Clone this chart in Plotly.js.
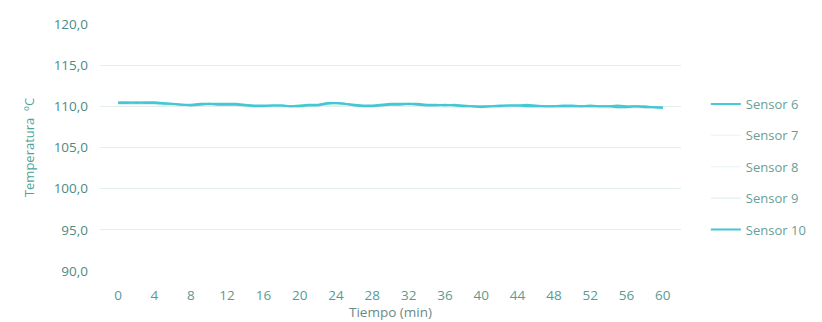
<!DOCTYPE html>
<html>
<head>
<meta charset="utf-8">
<script src="https://cdn.plot.ly/plotly-3.0.1.min.js"></script>
<style>html,body{margin:0;padding:0;background:#fff;}#chart{width:822px;height:322px;}</style>
</head>
<body>
<div id="chart"></div>
<script>
// Time in minutes
const tiempo = [0,1,2,3,4,5,6,7,8,9,10,11,12,13,14,15,16,17,18,19,20,21,22,23,24,25,26,27,28,29,30,31,32,33,34,35,36,37,38,39,40,41,42,43,44,45,46,47,48,49,50,51,52,53,54,55,56,57,58,59,60];
const sensor6 = [110.5,110.5,110.4,110.5,110.5,110.4,110.3,110.2,110.2,110.3,110.3,110.3,110.3,110.3,110.2,110.1,110.1,110.1,110.1,110.0,110.1,110.2,110.2,110.4,110.4,110.3,110.2,110.1,110.1,110.2,110.3,110.3,110.3,110.3,110.2,110.2,110.1,110.2,110.1,110.0,110.0,110.0,110.1,110.1,110.1,110.2,110.1,110.0,110.0,110.1,110.1,110.0,110.1,110.0,110.0,110.1,110.0,110.0,110.0,109.9,109.9];
const sensor7 = [110.3,110.3,110.3,110.3,110.2,110.2,110.2,110.2,110.1,110.1,110.2,110.2,110.2,110.1,110.1,110.1,110.0,110.0,110.0,110.0,110.0,110.1,110.1,110.2,110.2,110.2,110.1,110.1,110.0,110.0,110.1,110.1,110.1,110.1,110.1,110.0,110.0,110.0,110.0,110.0,109.9,109.9,110.0,110.0,110.0,110.0,110.0,110.0,109.9,109.9,110.0,110.0,110.0,109.9,109.9,109.9,109.9,109.9,109.9,109.8,109.8];
const sensor8 = [110.4,110.4,110.4,110.4,110.3,110.3,110.3,110.2,110.2,110.2,110.2,110.2,110.3,110.2,110.2,110.1,110.1,110.1,110.0,110.0,110.0,110.1,110.1,110.2,110.3,110.2,110.2,110.1,110.1,110.1,110.2,110.2,110.2,110.2,110.1,110.1,110.1,110.1,110.0,110.0,110.0,110.0,110.0,110.1,110.1,110.0,110.0,110.0,110.0,110.0,110.0,110.0,110.0,110.0,110.0,110.0,109.9,109.9,109.9,109.9,109.9];
const sensor9 = [110.2,110.2,110.2,110.2,110.2,110.1,110.1,110.1,110.1,110.1,110.1,110.1,110.1,110.1,110.0,110.0,110.0,110.0,109.9,109.9,109.9,110.0,110.0,110.1,110.1,110.1,110.0,110.0,110.0,110.0,110.0,110.0,110.1,110.0,110.0,110.0,109.9,109.9,109.9,109.9,109.9,109.9,109.9,109.9,110.0,109.9,109.9,109.9,109.9,109.9,109.9,109.9,109.9,109.8,109.8,109.8,109.8,109.8,109.8,109.8,109.8];
const sensor10 = [110.4,110.4,110.5,110.4,110.4,110.3,110.3,110.2,110.1,110.2,110.3,110.2,110.2,110.2,110.1,110.0,110.0,110.1,110.1,110.0,110.0,110.1,110.1,110.3,110.4,110.3,110.1,110.0,110.0,110.1,110.2,110.2,110.3,110.2,110.1,110.1,110.2,110.1,110.0,110.0,109.9,110.0,110.0,110.1,110.1,110.0,110.0,110.0,110.0,110.0,110.0,110.0,110.0,110.0,110.0,109.9,109.9,110.0,109.9,109.9,109.8];
const nombres = ["Sensor 6","Sensor 7","Sensor 8","Sensor 9","Sensor 10"];
const xTicks = [0,4,8,12,16,20,24,28,32,36,40,44,48,52,56,60];
const yTicks = [90,95,100,105,110,115,120];
const yTickText = ["90,0","95,0","100,0","105,0","110,0","115,0","120,0"];

const series = [sensor6, sensor7, sensor8, sensor9, sensor10];
const colores = ["#45cbd6","#eef6f6","#edf5f5","#e4f0f0","#45c6d3"];
const anchos = [2,1.2,1.2,1.2,2];

const traces = series.map((s,i)=>({
  x: tiempo, y: s, type:'scatter', mode:'lines', name: nombres[i],
  line:{color:colores[i], width:anchos[i]},
  legendgroup:'g'+i, legendrank:i+1
}));
const ordered = [traces[1],traces[2],traces[3],traces[0],traces[4]];

const tickColor = "#5a9a92";
const layout = {
  width:822, height:322,
  margin:{l:100, r:140, t:24, b:51},
  paper_bgcolor:'#ffffff', plot_bgcolor:'#ffffff',
  font:{family:"Open Sans, sans-serif", color:tickColor, size:13},
  showlegend:true,
  legend:{x:1.041, y:0.737, xanchor:'left', yanchor:'top', traceorder:'grouped', tracegroupgap:11.5,
          font:{size:13, color:"#6a9e98"}, bgcolor:'rgba(0,0,0,0)'},
  xaxis:{range:[-2,62], tickvals:xTicks, ticktext:xTicks.map(String), showgrid:false, zeroline:false,
         showline:false, ticks:'', ticklabelstandoff:14, tickfont:{size:13.5, color:tickColor},
         title:{text:"Tiempo (min)", font:{size:13.5, color:"#6a8a88"}, standoff:0}},
  yaxis:{range:[90,120], tickvals:yTicks, ticktext:yTickText, showgrid:true, gridcolor:"#e3eeec", gridwidth:1,
         zeroline:false, showline:false, ticks:'', ticklen:0, ticklabelstandoff:11, tickfont:{size:13.5, color:"#4e8a84"},
         title:{text:"Temperatura  ºC", font:{size:13, color:"#4fa39a"}, standoff:16}}
};
Plotly.newPlot('chart', ordered, layout, {displayModeBar:false, staticPlot:true});
</script>
</body>
</html>
